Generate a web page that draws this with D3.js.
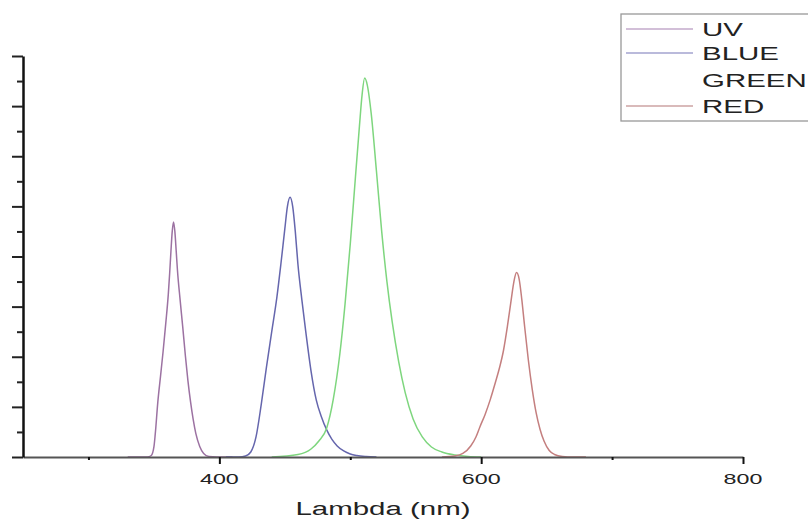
<!DOCTYPE html>
<html>
<head>
<meta charset="utf-8">
<script src="https://cdn.jsdelivr.net/npm/d3@7"></script>
<style>
  body { margin: 0; background: #fff; }
  svg { display: block; font-family: "Liberation Sans", Arial, sans-serif; }
</style>
</head>
<body>
<div id="chart"></div>
<script>
// wavelength (nm), intensity (a.u.)
const uvData = [[330,0],[345,0],[348,0.03],[350,0.2],[351,0.45],[353,1.1],[355,1.6],[357,2.1],[359,2.65],[361,3.25],[362,3.65],[363,4.1],[364,4.5],[365,4.69],[366,4.5],[367,4.12],[368,3.72],[370,3.14],[372,2.6],[374,2.03],[376,1.52],[378,1.1],[380,0.75],[382,0.47],[385,0.21],[388,0.07],[392,0.01],[398,0],[410,0]];
const blueData = [[405,0],[415,0],[420,0.02],[424,0.1],[428,0.4],[432,1.05],[436,1.8],[440,2.5],[444,3.2],[447,3.85],[450,4.55],[452,5.0],[454,5.18],[456,5.0],[458,4.5],[460,3.85],[463,3.14],[466,2.5],[470,1.72],[474,1.14],[478,0.8],[482,0.54],[486,0.35],[490,0.22],[495,0.12],[500,0.06],[505,0.03],[512,0.01],[520,0]];
const greenData = [[440,0],[460,0.05],[470,0.16],[476,0.32],[482,0.58],[487,1.15],[492,2.05],[496,3.05],[500,4.25],[504,5.6],[507,6.6],[509,7.22],[511,7.56],[513,7.42],[516,6.85],[520,5.7],[524,4.5],[528,3.5],[532,2.7],[537,1.9],[542,1.28],[548,0.76],[555,0.4],[562,0.2],[570,0.1],[580,0.04],[590,0.01],[600,0]];
const redData = [[570,0],[580,0.02],[586,0.07],[592,0.22],[596,0.4],[599,0.6],[603,0.85],[607,1.15],[611,1.5],[614,1.78],[617,2.12],[620,2.6],[623,3.15],[625,3.5],[627,3.68],[629,3.55],[631,3.15],[633,2.65],[636,1.94],[639,1.35],[642,0.88],[645,0.55],[648,0.32],[652,0.13],[656,0.05],[662,0.01],[670,0],[680,0]];

const seriesNames = ["UV", "BLUE", "GREEN", "RED"];
const lineColors = ["#9c72a2", "#6566ad", "#7ed67e", "#c47f7f"];
const legendColors = ["#c3aacb", "#a3a3cf", null, "#cda3a3"];

const xMajorTicks = [400, 600, 800];
const xMinorTicks = [300, 500, 700];
const yMajorTicks = [0, 1, 2, 3, 4, 5, 6, 7, 8];
const yMinorTicks = [0.5, 1.5, 2.5, 3.5, 4.5, 5.5, 6.5, 7.5];
const xLabel = "Lambda (nm)";

const width = 808, height = 520;
const margin = { top: 56, right: 65, bottom: 63, left: 23 };
const stretch = 1.55; // text in the picture is stretched sideways

const svg = d3.select("#chart").append("svg")
    .attr("width", width)
    .attr("height", height);

const x = d3.scaleLinear().domain([250, 800]).range([margin.left, width - margin.right]);
const y = d3.scaleLinear().domain([0, 8]).range([height - margin.bottom, margin.top]);

// curves
const line = d3.line()
    .x(d => x(d[0]))
    .y(d => y(d[1]))
    .curve(d3.curveMonotoneX);

[uvData, blueData, greenData, redData].forEach((data, i) => {
    svg.append("path")
        .datum(data)
        .attr("d", line)
        .attr("fill", "none")
        .attr("stroke", lineColors[i])
        .attr("stroke-width", 1.5);
});

// x axis
const xAxisG = svg.append("g").attr("transform", `translate(0,${y(0)})`);
xAxisG.call(d3.axisBottom(x).tickValues(xMajorTicks).tickSize(7).tickSizeOuter(0).tickFormat(""));
xAxisG.append("g").call(d3.axisBottom(x).tickValues(xMinorTicks).tickSize(3).tickSizeOuter(0).tickFormat(""))
    .select(".domain").remove();
xAxisG.select(".domain").attr("stroke", "#555").attr("stroke-width", 2);
xAxisG.selectAll(".tick line").attr("stroke", "#111").attr("stroke-width", 2);

xAxisG.selectAll(".lbl")
    .data(xMajorTicks)
    .join("text")
    .attr("class", "lbl")
    .attr("transform", d => `translate(${x(d)},27) scale(${stretch},1)`)
    .attr("text-anchor", "middle")
    .attr("font-size", 15)
    .attr("fill", "#222")
    .text(d => d);

// y axis
const yAxisG = svg.append("g").attr("transform", `translate(${x(250)},0)`);
yAxisG.call(d3.axisLeft(y).tickValues(yMajorTicks).tickSize(11).tickSizeOuter(0).tickFormat(""));
yAxisG.append("g").call(d3.axisLeft(y).tickValues(yMinorTicks).tickSize(6).tickSizeOuter(0).tickFormat(""))
    .select(".domain").remove();
yAxisG.select(".domain").attr("stroke", "#111").attr("stroke-width", 2.5);
yAxisG.selectAll(".tick line").attr("stroke", "#222").attr("stroke-width", 2);

// axis title
svg.append("text")
    .attr("transform", `translate(${(x(250) + x(800)) / 2},515) scale(${stretch},1)`)
    .attr("text-anchor", "middle")
    .attr("font-size", 19)
    .attr("fill", "#222")
    .text(xLabel);

// legend
const legend = svg.append("g").attr("transform", "translate(621,14)");
legend.append("rect")
    .attr("width", 200)
    .attr("height", 107)
    .attr("fill", "#fff")
    .attr("stroke", "#999")
    .attr("stroke-width", 1.3);

const rowY = [15, 39, 66, 92];
seriesNames.forEach((name, i) => {
    if (legendColors[i]) {
        legend.append("line")
            .attr("x1", 5).attr("x2", 72)
            .attr("y1", rowY[i]).attr("y2", rowY[i])
            .attr("stroke", legendColors[i])
            .attr("stroke-width", 1.5);
    }
    legend.append("text")
        .attr("transform", `translate(81,${rowY[i] + 7}) scale(${stretch},1)`)
        .attr("font-size", 19)
        .attr("fill", "#222")
        .text(name);
});
</script>
</body>
</html>
